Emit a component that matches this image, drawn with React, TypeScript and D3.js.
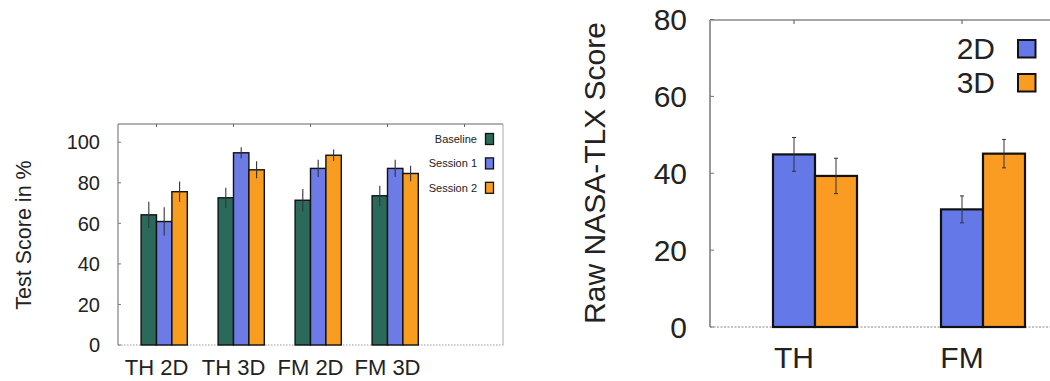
import React from "react";
import * as d3 from "d3";

const leftCategories = ["TH 2D", "TH 3D", "FM 2D", "FM 3D"];
const leftSeries = ["Baseline", "Session 1", "Session 2"];
const baselineValues = [64.2, 72.6, 71.4, 73.6];
const baselineErrors = [6.5, 5.0, 5.5, 5.0];
const session1Values = [60.9, 94.8, 87.1, 87.1];
const session1Errors = [7.0, 2.7, 4.3, 4.3];
const session2Values = [75.6, 86.4, 93.6, 84.6];
const session2Errors = [5.0, 4.2, 2.8, 3.8];
const leftTicks = [0, 20, 40, 60, 80, 100];

const rightCategories = ["TH", "FM"];
const rightSeries = ["2D", "3D"];
const twoDValues = [44.9, 30.6];
const twoDErrors = [4.4, 3.5];
const threeDValues = [39.3, 45.1];
const threeDErrors = [4.6, 3.7];
const rightTicks = [0, 20, 40, 60, 80];

const FONT = "'Liberation Sans', Arial, Helvetica, sans-serif";
const leftColors = ["#2b6a5b", "#6c7be6", "#f99d20"];
const rightColors = ["#6578e8", "#fb9c22"];

export default function App() {
  // Left chart scales
  const lx = d3.scaleLinear().domain([-0.5, 4.5]).range([118, 503]);
  const ly = d3.scaleLinear().domain([0, 109]).range([345, 124]);
  const lBarW = 0.2;
  const leftData = [
    { vals: baselineValues, errs: baselineErrors },
    { vals: session1Values, errs: session1Errors },
    { vals: session2Values, errs: session2Errors },
  ];

  // Right chart scales
  const rx = d3.scaleLinear().domain([-0.5, 1.5]).range([710, 1046]);
  const ry = d3.scaleLinear().domain([0, 80]).range([327, 19.5]);
  const rBarW = 0.25;
  const rightData = [
    { vals: twoDValues, errs: twoDErrors },
    { vals: threeDValues, errs: threeDErrors },
  ];

  const leftFrameTop = ly(109);
  const rightFrameTop = 20;

  return (
    <svg
      width={1050}
      height={381}
      style={{ position: "absolute", left: 0, top: 0, background: "#fff" }}
      fontFamily={FONT}
    >
      <rect x={0} y={0} width={1050} height={381} fill="#fff" />
      {/* ===== LEFT CHART ===== */}
      <g>
        <line x1={lx(-0.5)} x2={lx(-0.5)} y1={leftFrameTop} y2={ly(0)} stroke="#666" strokeWidth={1} />
        <line x1={lx(-0.5)} x2={lx(4.5)} y1={leftFrameTop} y2={leftFrameTop} stroke="#666" strokeWidth={1} />
        <line x1={lx(4.5)} x2={lx(4.5)} y1={leftFrameTop} y2={ly(0)} stroke="#aaa" strokeWidth={1} />
        <line x1={lx(-0.5)} x2={lx(4.5)} y1={ly(0)} y2={ly(0)} stroke="#999" strokeWidth={1} strokeDasharray="1.5,1.5" />
        {leftTicks.map((t) => (
          <g key={"lt" + t}>
            <line x1={lx(-0.5)} x2={lx(-0.5) + 3} y1={ly(t)} y2={ly(t)} stroke="#777" strokeWidth={1} />
            <text x={100} y={ly(t)} dy="0.36em" textAnchor="end" fontSize={20} fill="#222">
              {t}
            </text>
          </g>
        ))}
        {[0, 1, 2, 3, 4].map((k) => (
          <line key={"ltt" + k} x1={lx(k)} x2={lx(k)} y1={leftFrameTop} y2={leftFrameTop + 3} stroke="#666" strokeWidth={1} />
        ))}
        {leftCategories.map((c, i) => (
          <text key={c} x={lx(i)} y={375} textAnchor="middle" fontSize={22} fill="#222">
            {c}
          </text>
        ))}
        {leftData.map((s, si) =>
          s.vals.map((v, i) => {
            const x0 = lx(i + (si - 1) * lBarW);
            const x1 = lx(i + si * lBarW);
            return (
              <rect
                key={"lb" + si + "-" + i}
                x={x0}
                y={ly(v)}
                width={x1 - x0}
                height={ly(0) - ly(v)}
                fill={leftColors[si]}
                stroke="#111"
                strokeWidth={1.4}
              />
            );
          })
        )}
        {leftData.map((s, si) =>
          s.vals.map((v, i) => {
            const cx = lx(i + (si - 0.5) * lBarW);
            return (
              <line
                key={"le" + si + "-" + i}
                x1={cx}
                x2={cx}
                y1={ly(v + s.errs[i])}
                y2={ly(v - s.errs[i])}
                stroke="#333"
                strokeWidth={1.1}
              />
            );
          })
        )}
        {leftSeries.map((name, i) => {
          const cy = 139 + i * 24.4;
          return (
            <g key={name}>
              <text x={477} y={cy} dy="0.36em" textAnchor="end" fontSize={11} fill="#222">
                {name}
              </text>
              <rect x={485.5} y={cy - 5.5} width={8} height={11} fill={leftColors[i]} stroke="#111" strokeWidth={1.3} />
            </g>
          );
        })}
        <text
          transform="translate(31,235) rotate(-90)"
          textAnchor="middle"
          fontSize={21.5}
          fill="#222"
        >
          Test Score in %
        </text>
      </g>

      {/* ===== RIGHT CHART ===== */}
      <g>
        <line x1={rx(-0.5)} x2={rx(-0.5)} y1={rightFrameTop} y2={ry(0)} stroke="#777" strokeWidth={1.5} />
        <line x1={rx(-0.5)} x2={1060} y1={rightFrameTop} y2={rightFrameTop} stroke="#888" strokeWidth={1.5} />
        <line x1={rx(-0.5)} x2={1060} y1={ry(0)} y2={ry(0)} stroke="#888" strokeWidth={1.2} strokeDasharray="2,1.5" />
        {rightTicks.map((t) => (
          <g key={"rt" + t}>
            <line x1={rx(-0.5)} x2={rx(-0.5) + 4} y1={ry(t)} y2={ry(t)} stroke="#777" strokeWidth={1} />
            <text x={687} y={ry(t)} dy="0.36em" textAnchor="end" fontSize={30} fill="#222">
              {t}
            </text>
          </g>
        ))}
        {rightCategories.map((c, i) => (
          <g key={c}>
            <line x1={rx(i)} x2={rx(i)} y1={rightFrameTop} y2={rightFrameTop + 4} stroke="#555" strokeWidth={1} />
            <text x={rx(i)} y={368} textAnchor="middle" fontSize={30} fill="#222">
              {c}
            </text>
          </g>
        ))}
        {rightData.map((s, si) =>
          s.vals.map((v, i) => {
            const x0 = rx(i + (si - 0.5) * rBarW);
            const x1 = rx(i + (si + 0.5) * rBarW);
            return (
              <rect
                key={"rb" + si + "-" + i}
                x={x0}
                y={ry(v)}
                width={x1 - x0}
                height={ry(0) - ry(v)}
                fill={rightColors[si]}
                stroke="#111"
                strokeWidth={2.2}
              />
            );
          })
        )}
        {rightData.map((s, si) =>
          s.vals.map((v, i) => {
            const cx = rx(i + si * rBarW);
            const yTop = ry(v + s.errs[i]);
            const yBot = ry(v - s.errs[i]);
            return (
              <g key={"re" + si + "-" + i} stroke="#333" strokeWidth={1}>
                <line x1={cx} x2={cx} y1={yTop} y2={yBot} />
                <line x1={cx - 2} x2={cx + 2} y1={yTop} y2={yTop} />
                <line x1={cx - 2} x2={cx + 2} y1={yBot} y2={yBot} />
              </g>
            );
          })
        )}
        {rightSeries.map((name, i) => {
          const cy = 48.5 + i * 34;
          return (
            <g key={name}>
              <text x={995} y={cy} dy="0.36em" textAnchor="end" fontSize={30} fill="#222">
                {name}
              </text>
              <rect x={1018} y={cy - 8.5} width={17.5} height={17.5} fill={rightColors[i]} stroke="#111" strokeWidth={2} />
            </g>
          );
        })}
        <text
          transform="translate(605,173) rotate(-90)"
          textAnchor="middle"
          fontSize={30}
          fill="#222"
        >
          Raw NASA-TLX Score
        </text>
      </g>
    </svg>
  );
}
